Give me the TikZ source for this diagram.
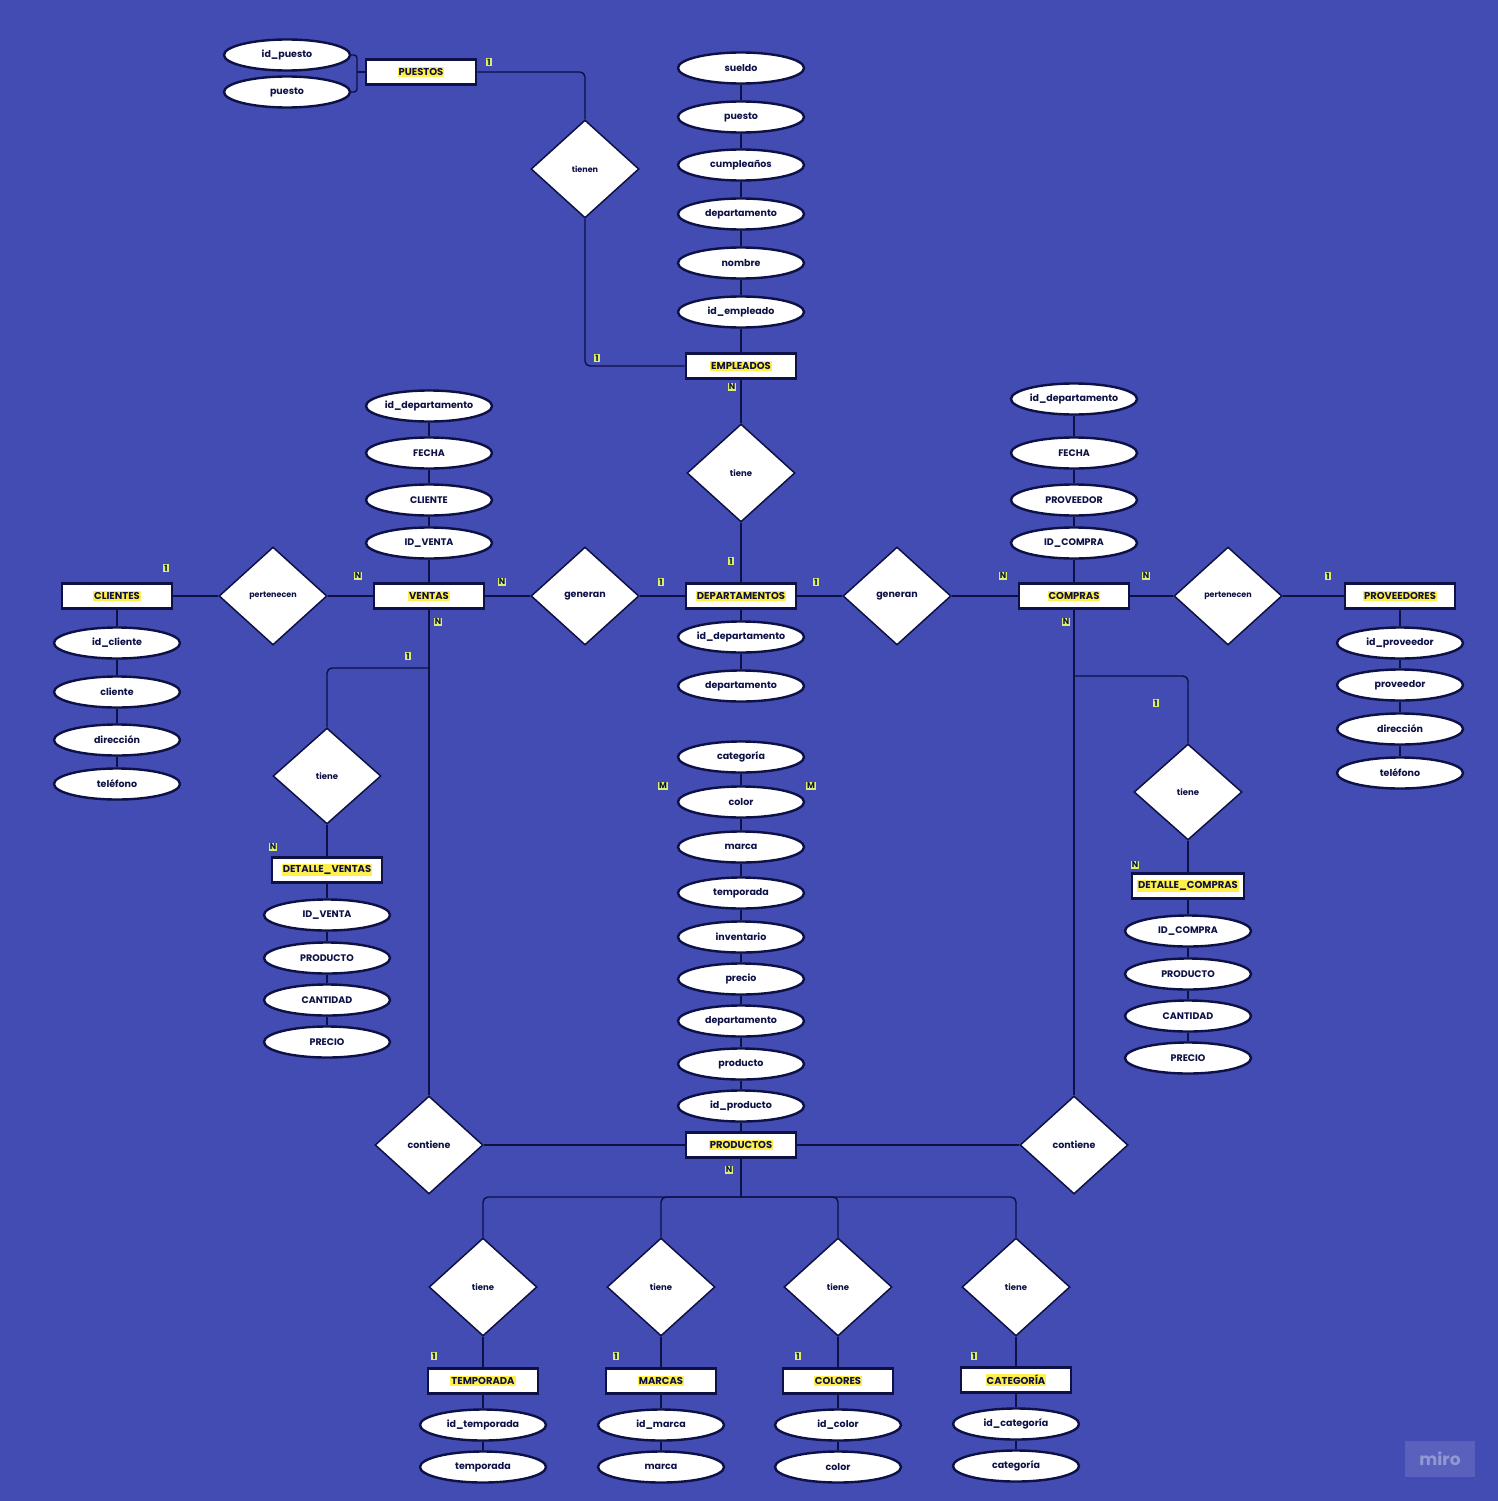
\documentclass[tikz,border=0pt]{standalone}
\usepackage{fontspec}
\setmainfont{Poppins}
\usetikzlibrary{shapes.geometric}
\definecolor{bgblue}{HTML}{434CB3}
\definecolor{ink}{HTML}{0D1145}
\definecolor{cardc}{HTML}{D8EE6E}
\definecolor{hly}{HTML}{FFF04B}
\newcommand{\hlt}[1]{{\setlength{\fboxsep}{1pt}\colorbox{hly}{#1}}}
\begin{document}
\begin{tikzpicture}[x=1pt,y=-1pt,
  attr/.style={ellipse, draw=ink, line width=2.4pt, fill=white, minimum width=126pt, minimum height=31pt, inner sep=0pt, font=\fontsize{9.5}{11}\selectfont\bfseries, text=ink},
  ent/.style={rectangle, draw=ink, line width=2.6pt, fill=white, minimum width=110pt, minimum height=25pt, inner sep=0pt, font=\fontsize{10}{12}\selectfont\bfseries, text=ink},
  rel/.style={diamond, draw=ink, line width=1.5pt, fill=white, minimum width=108pt, minimum height=98pt, inner sep=0pt, font=\fontsize{8.5}{10}\selectfont\bfseries, text=ink},
  relbig/.style={rel, font=\fontsize{9.5}{11}\selectfont\bfseries},
  relsm/.style={rel, font=\fontsize{8}{10}\selectfont\bfseries},
  cardl/.style={fill=cardc, inner xsep=1.2pt, inner ysep=1pt, font=\fontsize{8.5}{9}\selectfont\bfseries, text=ink},
  conn/.style={draw=ink, line width=1.4pt},
  rc/.style={conn, rounded corners=5pt}]
\fill[bgblue] (0,0) rectangle (1498,1501);
\useasboundingbox (0,0) rectangle (1498,1501);

% ---------- PUESTOS ----------
\node[attr] (idpuesto) at (287,55) {id\_puesto};
\node[attr] (puestoA) at (287,92) {puesto};
\node[ent] (puestos) at (421,72) {\hlt{PUESTOS}};
\node[relsm] (tienen) at (585,169) {tienen};
\coordinate (br) at (357,72);
\node[cardl] (k1) at (489,62) {1};
\node[cardl] (k2) at (597,358) {1};

% ---------- EMPLEADOS ----------
\node[attr] (sueldo) at (741,68) {sueldo};
\node[attr] (puestoE) at (741,117) {puesto};
\node[attr] (cumple) at (741,165) {cumpleaños};
\node[attr] (deptoE) at (741,214) {departamento};
\node[attr] (nombre) at (741,263) {nombre};
\node[attr] (idemp) at (741,312) {id\_empleado};
\node[ent] (empleados) at (741,366) {\hlt{EMPLEADOS}};
\node[cardl] (k3) at (732,387) {N};
\node[rel] (tieneE) at (741,473) {tiene};
\node[cardl] (k4) at (731,561) {1};

% ---------- DEPARTAMENTOS ----------
\node[ent] (deptos) at (741,596) {\hlt{DEPARTAMENTOS}};
\node[attr] (iddep) at (741,637) {id\_departamento};
\node[attr] (depA) at (741,686) {departamento};

% ---------- VENTAS ----------
\node[attr] (idDepV) at (429,406) {id\_departamento};
\node[attr] (fechaV) at (429,453) {FECHA};
\node[attr] (clienteV) at (429,500) {CLIENTE};
\node[attr] (idventaV) at (429,543) {ID\_VENTA};
\node[ent] (ventas) at (429,596) {\hlt{VENTAS}};
\node[cardl] (k5) at (358,576) {N};
\node[cardl] (k6) at (502,582) {N};
\node[cardl] (k7) at (438,622) {N};

% ---------- CLIENTES ----------
\node[relsm] (pertL) at (273,596) {pertenecen};
\node[ent] (clientes) at (117,596) {\hlt{CLIENTES}};
\node[cardl] (k8) at (166,568) {1};
\node[attr] (idcli) at (117,643) {id\_cliente};
\node[attr] (cli) at (117,692) {cliente};
\node[attr] (dirC) at (117,740) {dirección};
\node[attr] (telC) at (117,784) {teléfono};

% ---------- generan ----------
\node[relbig] (genL) at (585,596) {generan};
\node[cardl] (k9) at (661,582) {1};
\node[relbig] (genR) at (897,596) {generan};
\node[cardl] (k10) at (816,582) {1};

% ---------- COMPRAS ----------
\node[attr] (idDepC) at (1074,399) {id\_departamento};
\node[attr] (fechaC) at (1074,453) {FECHA};
\node[attr] (provC) at (1074,500) {PROVEEDOR};
\node[attr] (idcompraC) at (1074,543) {ID\_COMPRA};
\node[ent] (compras) at (1074,596) {\hlt{COMPRAS}};
\node[cardl] (k11) at (1003,576) {N};
\node[cardl] (k12) at (1146,576) {N};
\node[cardl] (k13) at (1066,622) {N};

% ---------- PROVEEDORES ----------
\node[relsm] (pertR) at (1228,596) {pertenecen};
\node[cardl] (k14) at (1328,576) {1};
\node[ent] (proveedores) at (1400,596) {\hlt{PROVEEDORES}};
\node[attr] (idprov) at (1400,643) {id\_proveedor};
\node[attr] (prov) at (1400,685) {proveedor};
\node[attr] (dirP) at (1400,729) {dirección};
\node[attr] (telP) at (1400,773) {teléfono};

% ---------- DETALLE_VENTAS ----------
\coordinate (bv) at (429,668);
\node[rel, minimum height=96pt] (tieneV) at (327,776) {tiene};
\node[cardl] (k15) at (408,656) {1};
\node[ent] (detV) at (327,870) {\hlt{DETALLE\_VENTAS}};
\node[cardl] (k16) at (273,847) {N};
\node[attr] (dv1) at (327,915) {ID\_VENTA};
\node[attr] (dv2) at (327,958) {PRODUCTO};
\node[attr] (dv3) at (327,1000) {CANTIDAD};
\node[attr] (dv4) at (327,1042) {PRECIO};

% ---------- DETALLE_COMPRAS ----------
\coordinate (bc) at (1074,676);
\node[rel, minimum height=96pt] (tieneC) at (1188,792) {tiene};
\node[cardl] (k17) at (1156,703) {1};
\node[ent, minimum width=112pt] (detC) at (1188,886) {\hlt{DETALLE\_COMPRAS}};
\node[cardl] (k18) at (1135,865) {N};
\node[attr] (dc1) at (1188,931) {ID\_COMPRA};
\node[attr] (dc2) at (1188,974) {PRODUCTO};
\node[attr] (dc3) at (1188,1016) {CANTIDAD};
\node[attr] (dc4) at (1188,1058) {PRECIO};

% ---------- PRODUCTOS ----------
\node[attr] (catP) at (741,757) {categoría};
\node[attr] (colP) at (741,802) {color};
\node[attr] (marP) at (741,847) {marca};
\node[attr] (tempP) at (741,893) {temporada};
\node[attr] (invP) at (741,937) {inventario};
\node[attr] (preP) at (741,979) {precio};
\node[attr] (depP) at (741,1021) {departamento};
\node[attr] (prodP) at (741,1064) {producto};
\node[attr] (idprodP) at (741,1106) {id\_producto};
\node[ent] (productos) at (741,1145) {\hlt{PRODUCTOS}};
\node[cardl] (k19) at (663,786) {M};
\node[cardl] (k20) at (811,786) {M};
\node[relbig] (contL) at (429,1145) {contiene};
\node[relbig] (contR) at (1074,1145) {contiene};
\node[cardl] (k21) at (729,1170) {N};
\coordinate (bus) at (741,1197);

% ---------- bottom ----------
\node[rel] (tT) at (483,1287) {tiene};
\node[rel] (tM) at (661,1287) {tiene};
\node[rel] (tC) at (838,1287) {tiene};
\node[rel] (tK) at (1016,1287) {tiene};
\node[cardl] (k22) at (434,1356) {1};
\node[cardl] (k23) at (616,1356) {1};
\node[cardl] (k24) at (798,1356) {1};
\node[cardl] (k25) at (974,1356) {1};
\node[ent] (temporada) at (483,1381) {\hlt{TEMPORADA}};
\node[ent] (marcas) at (661,1381) {\hlt{MARCAS}};
\node[ent] (colores) at (838,1381) {\hlt{COLORES}};
\node[ent] (categoria) at (1016,1380) {\hlt{CATEGORÍA}};
\node[attr] (idtemp) at (483,1425) {id\_temporada};
\node[attr] (temp) at (483,1467) {temporada};
\node[attr] (idmar) at (661,1425) {id\_marca};
\node[attr] (mar) at (661,1467) {marca};
\node[attr] (idcol) at (838,1425) {id\_color};
\node[attr] (col) at (838,1467) {color};
\node[attr] (idcat) at (1016,1424) {id\_categoría};
\node[attr] (cat) at (1016,1466) {categoría};

% ---------- connectors ----------
\draw[rc, rounded corners=3pt] (idpuesto.east) -| (br) |- (puestoA.east);
\draw[conn] (br) -- (puestos.west);
\draw[rc] (puestos.east) -| (tienen.north);
\draw[rc] (tienen.south) |- (empleados.west);

\draw[conn] (sueldo.south) -- (puestoE.north);
\draw[conn] (puestoE.south) -- (cumple.north);
\draw[conn] (cumple.south) -- (deptoE.north);
\draw[conn] (deptoE.south) -- (nombre.north);
\draw[conn] (nombre.south) -- (idemp.north);
\draw[conn] (idemp.south) -- (empleados.north);
\draw[conn] (empleados.south) -- (tieneE.north);
\draw[conn] (tieneE.south) -- (deptos.north);
\draw[conn] (deptos.south) -- (iddep.north);
\draw[conn] (iddep.south) -- (depA.north);

\draw[conn] (idDepV.south) -- (fechaV.north);
\draw[conn] (fechaV.south) -- (clienteV.north);
\draw[conn] (clienteV.south) -- (idventaV.north);
\draw[conn] (idventaV.south) -- (ventas.north);

\draw[conn] (idDepC.south) -- (fechaC.north);
\draw[conn] (fechaC.south) -- (provC.north);
\draw[conn] (provC.south) -- (idcompraC.north);
\draw[conn] (idcompraC.south) -- (compras.north);

\draw[conn] (clientes.east) -- (pertL.west);
\draw[conn] (pertL.east) -- (ventas.west);
\draw[conn] (ventas.east) -- (genL.west);
\draw[conn] (genL.east) -- (deptos.west);
\draw[conn] (deptos.east) -- (genR.west);
\draw[conn] (genR.east) -- (compras.west);
\draw[conn] (compras.east) -- (pertR.west);
\draw[conn] (pertR.east) -- (proveedores.west);

\draw[conn] (clientes.south) -- (idcli.north);
\draw[conn] (idcli.south) -- (cli.north);
\draw[conn] (cli.south) -- (dirC.north);
\draw[conn] (dirC.south) -- (telC.north);

\draw[conn] (proveedores.south) -- (idprov.north);
\draw[conn] (idprov.south) -- (prov.north);
\draw[conn] (prov.south) -- (dirP.north);
\draw[conn] (dirP.south) -- (telP.north);

\draw[conn] (ventas.south) -- (contL.north);
\draw[rc] (bv) -| (tieneV.north);
\draw[conn] (tieneV.south) -- (detV.north);
\draw[conn] (detV.south) -- (dv1.north);
\draw[conn] (dv1.south) -- (dv2.north);
\draw[conn] (dv2.south) -- (dv3.north);
\draw[conn] (dv3.south) -- (dv4.north);

\draw[conn] (compras.south) -- (contR.north);
\draw[rc] (bc) -| (tieneC.north);
\draw[conn] (tieneC.south) -- (detC.north);
\draw[conn] (detC.south) -- (dc1.north);
\draw[conn] (dc1.south) -- (dc2.north);
\draw[conn] (dc2.south) -- (dc3.north);
\draw[conn] (dc3.south) -- (dc4.north);

\draw[conn] (catP.south) -- (colP.north);
\draw[conn] (colP.south) -- (marP.north);
\draw[conn] (marP.south) -- (tempP.north);
\draw[conn] (tempP.south) -- (invP.north);
\draw[conn] (invP.south) -- (preP.north);
\draw[conn] (preP.south) -- (depP.north);
\draw[conn] (depP.south) -- (prodP.north);
\draw[conn] (prodP.south) -- (idprodP.north);
\draw[conn] (idprodP.south) -- (productos.north);
\draw[conn] (productos.west) -- (contL.east);
\draw[conn] (productos.east) -- (contR.west);

\draw[conn] (productos.south) -- (bus);
\draw[rc] (bus) -| (tT.north);
\draw[rc] (bus) -| (tM.north);
\draw[rc] (bus) -| (tC.north);
\draw[rc] (bus) -| (tK.north);
\draw[conn] (tT.south) -- (temporada.north);
\draw[conn] (tM.south) -- (marcas.north);
\draw[conn] (tC.south) -- (colores.north);
\draw[conn] (tK.south) -- (categoria.north);
\draw[conn] (temporada.south) -- (idtemp.north);
\draw[conn] (idtemp.south) -- (temp.north);
\draw[conn] (marcas.south) -- (idmar.north);
\draw[conn] (idmar.south) -- (mar.north);
\draw[conn] (colores.south) -- (idcol.north);
\draw[conn] (idcol.south) -- (col.north);
\draw[conn] (categoria.south) -- (idcat.north);
\draw[conn] (idcat.south) -- (cat.north);

% ---------- watermark ----------
\node[fill=white, fill opacity=0.12, text opacity=0.35, text=white, minimum width=70pt, minimum height=36pt, inner sep=0pt, font=\fontsize{17}{18}\selectfont\bfseries] (miro) at (1440,1459) {miro};
\end{tikzpicture}
\end{document}
